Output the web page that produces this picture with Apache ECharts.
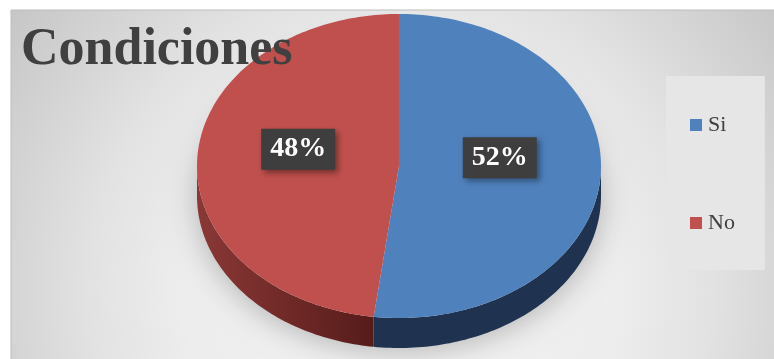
<!DOCTYPE html>
<html>
<head>
<meta charset="utf-8">
<script src="https://cdn.jsdelivr.net/npm/echarts@6/dist/echarts.min.js"></script>
<style>
  html, body { margin: 0; padding: 0; background: #ffffff; }
  #chart { width: 774px; height: 359px; }
</style>
</head>
<body>
<div id="chart"></div>
<script>
// Datos del gráfico
const categories = ['Si', 'No'];
const values = [52, 48];
const topColors = ['#4f81bd', '#c0504d'];
const sideColors = [
  ['#1f3350', '#1f3350'],
  ['#8a3836', '#561c1a'],
];

// Geometría del pastel 3D (elipse)
const CX = 399, CY = 166, RX = 202, RY = 152, DEPTH = 30;
const LABEL_SHIFT = [-13, -12];

const total = values.reduce((a, b) => a + b, 0);

function pt(theta, dy) {
  return [CX + RX * Math.sin(theta), CY - RY * Math.cos(theta) + (dy || 0)];
}

function arcPoints(a, b, dy) {
  const pts = [];
  const n = Math.max(2, Math.ceil((b - a) / 0.02));
  for (let i = 0; i <= n; i++) pts.push(pt(a + (b - a) * i / n, dy));
  return pts;
}

function sliceAngles(idx) {
  let start = 0;
  for (let i = 0; i < idx; i++) start += values[i] / total * Math.PI * 2;
  return [start, start + values[idx] / total * Math.PI * 2];
}

function renderSlice(idx) {
  const [a, b] = sliceAngles(idx);
  const children = [];

  if (idx === 0) {
    // sombra suave bajo el pastel
    children.push({
      type: 'polygon',
      z2: 0,
      shape: { points: arcPoints(0, Math.PI * 2, DEPTH - 4) },
      style: {
        fill: '#e8e8e8',
        shadowBlur: 30,
        shadowOffsetY: 8,
        shadowColor: 'rgba(0,0,0,0.25)',
      },
    });
  }

  // lado visible (frente del pastel)
  const s = Math.max(a, Math.PI / 2);
  const e = Math.min(b, Math.PI * 1.5);
  if (e > s) {
    const top = arcPoints(s, e, 0);
    const bottom = arcPoints(s, e, DEPTH).reverse();
    children.push({
      type: 'polygon',
      z2: 5,
      shape: { points: top.concat(bottom) },
      style: {
        fill: new echarts.graphic.LinearGradient(0, 0, 1, 0, [
          { offset: 0, color: sideColors[idx][0] },
          { offset: 1, color: sideColors[idx][1] },
        ]),
      },
    });
  }

  // cara superior
  children.push({
    type: 'polygon',
    z2: 10,
    shape: { points: [[CX, CY]].concat(arcPoints(a, b, 0)) },
    style: { fill: topColors[idx] },
  });

  // etiqueta de porcentaje
  const mid = (a + b) / 2;
  children.push({
    type: 'text',
    z2: 20,
    x: CX + RX * 0.5 * Math.sin(mid),
    y: CY - RY * 0.5 * Math.cos(mid) + LABEL_SHIFT[idx],
    style: {
      text: Math.round(values[idx] / total * 100) + '%',
      fill: '#ffffff',
      font: 'bold 28px "Liberation Serif", serif',
      align: 'center',
      verticalAlign: 'middle',
      backgroundColor: '#3e3e3e',
      padding: [7, 9, 6, 9],
      shadowBlur: 6,
      shadowOffsetX: 3,
      shadowOffsetY: 3,
      shadowColor: 'rgba(0,0,0,0.4)',
    },
  });

  return { type: 'group', children };
}

const chart = echarts.init(document.getElementById('chart'), null, { renderer: 'canvas' });

chart.setOption({
  animation: false,
  graphic: [
    {
      type: 'rect',
      z: -10,
      shape: { x: 11, y: 10, width: 770, height: 360 },
      style: {
        fill: new echarts.graphic.RadialGradient(400, 290, 480, [
          { offset: 0, color: '#f4f4f4' },
          { offset: 0.45, color: '#ededed' },
          { offset: 0.65, color: '#e2e2e2' },
          { offset: 0.82, color: '#d4d4d4' },
          { offset: 1, color: '#c6c6c6' },
        ], true),
        stroke: '#bdbdbd',
        lineWidth: 1,
      },
    },
  ],
  title: {
    text: 'Condiciones',
    left: 16,
    top: 20,
    textStyle: {
      fontFamily: '"Liberation Serif", serif',
      fontWeight: 'bold',
      fontSize: 52,
      color: '#404040',
    },
  },
  legend: {
    orient: 'vertical',
    left: 666,
    top: 76,
    padding: [38, 30, 36, 24],
    backgroundColor: '#e6e6e6',
    itemWidth: 12,
    itemHeight: 12,
    itemGap: 76,
    icon: 'rect',
    data: categories,
    textStyle: {
      fontFamily: '"Liberation Serif", serif',
      fontSize: 22,
      lineHeight: 22,
      color: '#404040',
      padding: [0, 0, 0, 1],
    },
  },
  series: categories.map((name, i) => ({
    type: 'custom',
    name,
    coordinateSystem: 'none',
    itemStyle: { color: topColors[i] },
    data: [values[i]],
    renderItem: () => renderSlice(i),
  })),
});
</script>
</body>
</html>
